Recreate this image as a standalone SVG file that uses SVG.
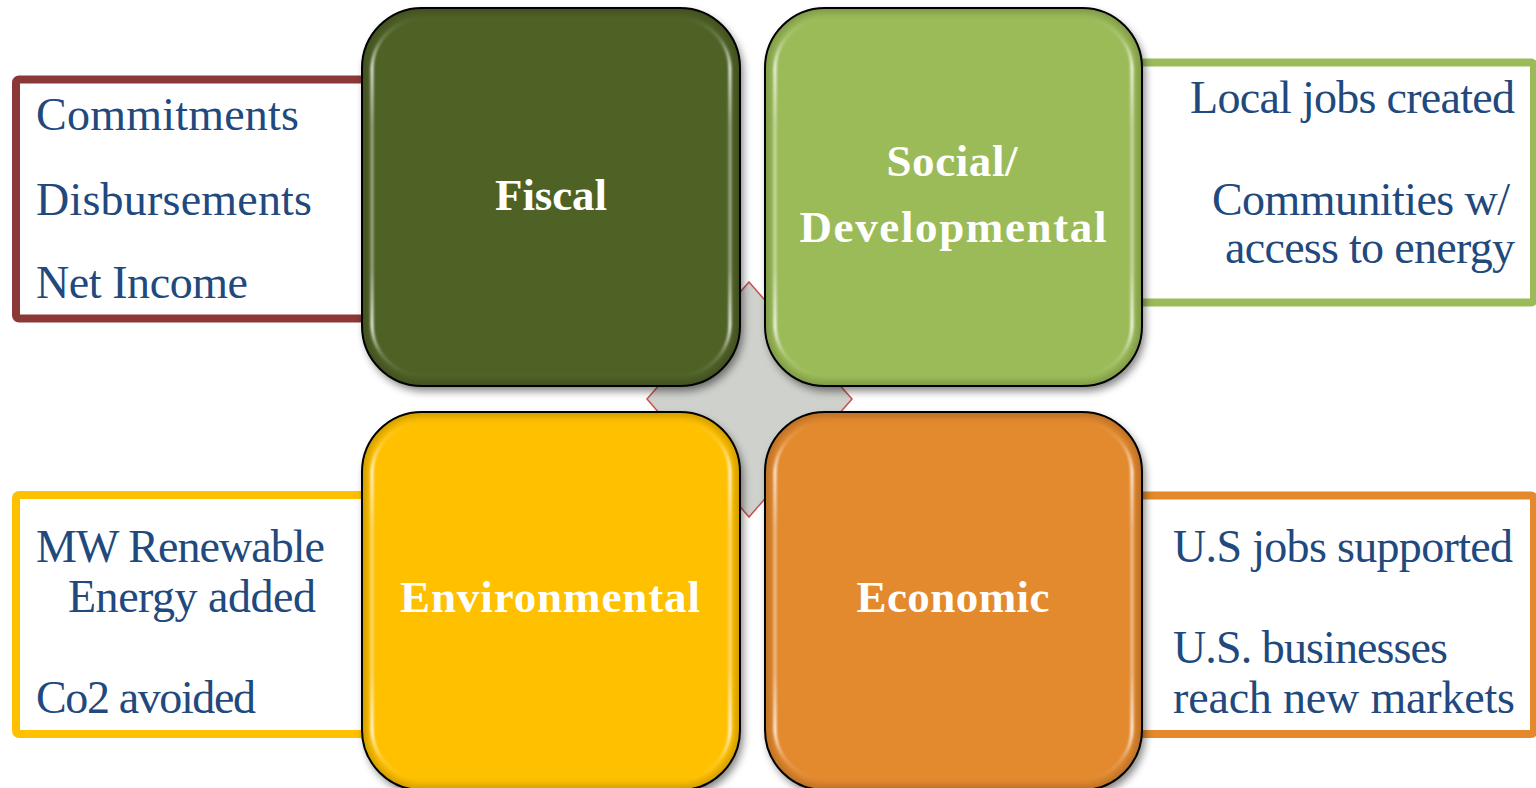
<svg xmlns="http://www.w3.org/2000/svg" width="1536" height="788" viewBox="0 0 1536 788">
  <style>
    .item { font-family: "Liberation Serif", "Times New Roman", serif; font-size: 46px; fill: #21497D; }
    .title { font-family: "Liberation Serif", "Times New Roman", serif; font-size: 45px; font-weight: bold; fill: #FFFFFF; text-anchor: middle; }
    .frame { fill: #FFFFFF; stroke-width: 8; }
    .tile-edge { fill: none; stroke: #000000; stroke-width: 2; }
    .gloss { fill: none; stroke: url(#glossGrad); stroke-width: 3; filter: url(#soft); }
    .rim { fill: none; stroke: #000000; stroke-opacity: 0.18; stroke-width: 10; filter: url(#soft2); }
  </style>
  <defs>
    <filter id="shadow" x="-10%" y="-10%" width="125%" height="125%">
      <feGaussianBlur in="SourceAlpha" stdDeviation="4"/>
      <feOffset dx="3" dy="5" result="b"/>
      <feComponentTransfer><feFuncA type="linear" slope="0.5"/></feComponentTransfer>
      <feMerge><feMergeNode/><feMergeNode in="SourceGraphic"/></feMerge>
    </filter>
    <filter id="soft" x="-5%" y="-5%" width="110%" height="110%">
      <feGaussianBlur stdDeviation="0.9"/>
    </filter>
    <filter id="soft2" x="-5%" y="-5%" width="110%" height="110%">
      <feGaussianBlur stdDeviation="3"/>
    </filter>
    <linearGradient id="glossGrad" x1="0" y1="0" x2="0" y2="1">
      <stop offset="0" stop-color="#FFFFFF" stop-opacity="0"/>
      <stop offset="0.06" stop-color="#FFFFFF" stop-opacity="0.2"/>
      <stop offset="0.14" stop-color="#FFFFFF" stop-opacity="0.85"/>
      <stop offset="0.3" stop-color="#FFFFFF" stop-opacity="0.45"/>
      <stop offset="0.7" stop-color="#FFFFFF" stop-opacity="0.45"/>
      <stop offset="0.86" stop-color="#FFFFFF" stop-opacity="0.9"/>
      <stop offset="0.94" stop-color="#FFFFFF" stop-opacity="0.2"/>
      <stop offset="1" stop-color="#FFFFFF" stop-opacity="0"/>
    </linearGradient>
    <clipPath id="clipFiscal"><rect x="362" y="8" width="378" height="378" rx="60"/></clipPath>
    <clipPath id="clipSocial"><rect x="765" y="8" width="377" height="378" rx="60"/></clipPath>
    <clipPath id="clipEnv"><rect x="362" y="412" width="378" height="378" rx="60"/></clipPath>
    <clipPath id="clipEcon"><rect x="765" y="412" width="377" height="378" rx="60"/></clipPath>
  </defs>

  <rect width="1536" height="788" fill="#FFFFFF"/>

  <!-- centre diamond behind the four tiles -->
  <g id="hub">
    <polygon points="749,282 852,399 749,517 647,399" fill="#CFD1CD" stroke="#C8504F" stroke-width="1.5"/>
  </g>

  <!-- links: metric frames that run behind each tile -->
  <g id="connectors">
    <rect class="frame" x="16" y="79.5" width="380" height="239" rx="3" stroke="#8B3836"/>
    <rect class="frame" x="1110" y="62.5" width="424" height="240" rx="3" stroke="#9BBB59"/>
    <rect class="frame" x="16" y="495" width="380" height="239" rx="3" stroke="#FFC000"/>
    <rect class="frame" x="1110" y="495.5" width="424" height="238.5" rx="3" stroke="#E48A2D"/>
  </g>

  <g id="fiscal-metrics">
    <text class="item" x="36" y="130" textLength="263">Commitments</text>
    <text class="item" x="36" y="215" textLength="276">Disbursements</text>
    <text class="item" x="36" y="298" textLength="212">Net Income</text>
  </g>

  <g id="social-metrics">
    <text class="item" x="1190" y="113" textLength="325">Local jobs created</text>
    <text class="item" x="1212" y="215" textLength="298">Communities w/</text>
    <text class="item" x="1225" y="263" textLength="290">access to energy</text>
  </g>

  <g id="environmental-metrics">
    <text class="item" x="36" y="562" textLength="289">MW Renewable</text>
    <text class="item" x="68" y="612" textLength="248">Energy added</text>
    <text class="item" x="36" y="713" textLength="220">Co2 avoided</text>
  </g>

  <g id="economic-metrics">
    <text class="item" x="1173" y="562" textLength="340">U.S jobs supported</text>
    <text class="item" x="1173" y="663" textLength="275">U.S. businesses</text>
    <text class="item" x="1173" y="713" textLength="342">reach new markets</text>
  </g>

  <!-- the four category tiles -->
  <g id="fiscal">
    <rect x="362" y="8" width="378" height="378" rx="60" fill="#4F6228" filter="url(#shadow)"/>
    <g clip-path="url(#clipFiscal)"><rect class="rim" x="362" y="8" width="378" height="378" rx="60"/></g>
    <rect class="gloss" x="372" y="18" width="358" height="358" rx="52"/>
    <rect class="tile-edge" x="362" y="8" width="378" height="378" rx="60"/>
    <text class="title" x="551" y="210" textLength="112">Fiscal</text>
  </g>

  <g id="social">
    <rect x="765" y="8" width="377" height="378" rx="60" fill="#9BBB59" filter="url(#shadow)"/>
    <g clip-path="url(#clipSocial)"><rect class="rim" x="765" y="8" width="377" height="378" rx="60"/></g>
    <rect class="gloss" x="775" y="18" width="357" height="358" rx="52"/>
    <rect class="tile-edge" x="765" y="8" width="377" height="378" rx="60"/>
    <text class="title" x="952" y="176" textLength="131">Social/</text>
    <text class="title" x="953" y="242" textLength="307">Developmental</text>
  </g>

  <g id="environmental">
    <rect x="362" y="412" width="378" height="378" rx="60" fill="#FFC000" filter="url(#shadow)"/>
    <g clip-path="url(#clipEnv)"><rect class="rim" x="362" y="412" width="378" height="378" rx="60"/></g>
    <rect class="gloss" x="372" y="422" width="358" height="358" rx="52"/>
    <rect class="tile-edge" x="362" y="412" width="378" height="378" rx="60"/>
    <text class="title" x="550" y="612" textLength="300">Environmental</text>
  </g>

  <g id="economic">
    <rect x="765" y="412" width="377" height="378" rx="60" fill="#E3892D" filter="url(#shadow)"/>
    <g clip-path="url(#clipEcon)"><rect class="rim" x="765" y="412" width="377" height="378" rx="60"/></g>
    <rect class="gloss" x="775" y="422" width="357" height="358" rx="52"/>
    <rect class="tile-edge" x="765" y="412" width="377" height="378" rx="60"/>
    <text class="title" x="953" y="612" textLength="193">Economic</text>
  </g>
</svg>
